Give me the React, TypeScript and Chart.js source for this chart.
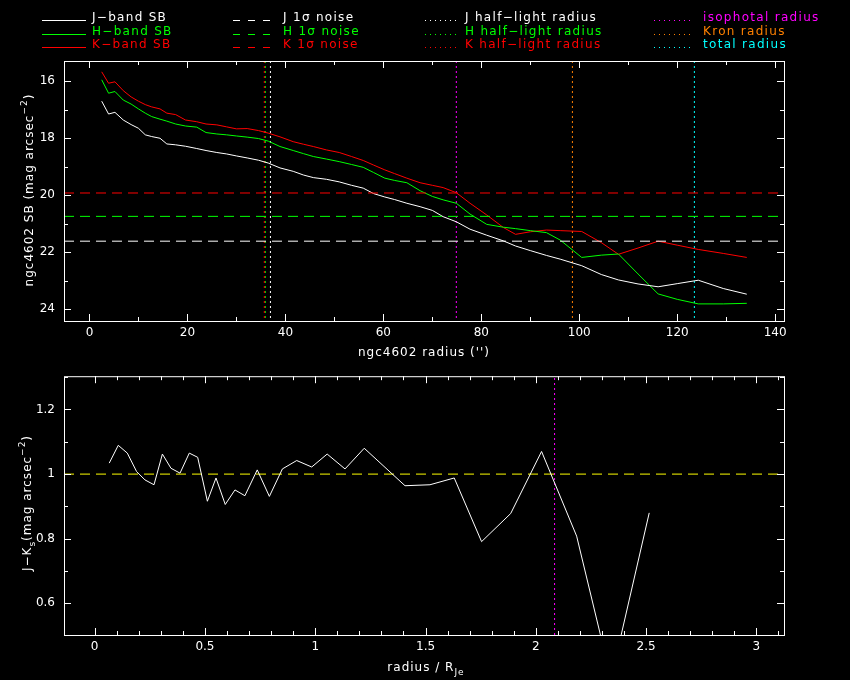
import React, { useEffect, useRef } from 'react';
import { Chart, registerables } from 'chart.js';
Chart.register(...registerables);

// surface brightness profiles (mag arcsec^-2) against radius (arcsec)
const radius = [
  2.5, 3.9, 5.2, 6.9, 8.5, 10.0, 11.4, 12.7, 14.4, 15.8, 17.6, 19.6, 21.9, 23.8, 26.0, 28.0, 30.0, 32.2,
  34.5, 36.5, 38.9, 41.6, 43.7, 45.7, 48.4, 51.0, 53.5, 55.9, 58.0, 60.3, 62.3, 64.8, 67.5, 70.0, 72.2,
  74.9, 77.7, 81.1, 84.5, 87.0, 90.0, 93.3, 96.1, 100.5, 104.5, 108.0, 112.0, 116.1, 120.0, 124.3, 129.4, 134.2,
];
const jBandSB = [
  16.7, 17.15, 17.09, 17.36, 17.52, 17.65, 17.88, 17.94, 18.0, 18.2, 18.23, 18.28, 18.36, 18.43, 18.5, 18.55,
  18.62, 18.69, 18.77, 18.87, 19.04, 19.16, 19.29, 19.38, 19.44, 19.53, 19.65, 19.75, 19.94, 20.06, 20.15,
  20.28, 20.4, 20.53, 20.75, 20.93, 21.19, 21.4, 21.6, 21.78, 21.94, 22.11, 22.24, 22.47, 22.78, 22.97, 23.11,
  23.21, 23.1, 22.98, 23.27, 23.47,
];
const hBandSB = [
  15.95, 16.42, 16.36, 16.66, 16.8, 16.97, 17.12, 17.24, 17.33, 17.4, 17.5, 17.57, 17.61, 17.8, 17.85, 17.88,
  17.92, 17.96, 18.01, 18.1, 18.29, 18.43, 18.54, 18.64, 18.73, 18.82, 18.92, 19.02, 19.2, 19.4, 19.48, 19.56,
  19.84, 20.04, 20.16, 20.28, 20.66, 21.02, 21.12, 21.17, 21.24, 21.31, 21.57, 22.18, 22.1, 22.06, 22.76, 23.46,
  23.65, 23.81, 23.81, 23.79,
];
const kBandSB = [
  15.67, 16.07, 16.02, 16.33, 16.55, 16.7, 16.82, 16.9, 16.97, 17.12, 17.17, 17.36, 17.42, 17.5, 17.53, 17.6,
  17.67, 17.66, 17.73, 17.82, 17.95, 18.12, 18.21, 18.29, 18.41, 18.5, 18.64, 18.78, 18.94, 19.11, 19.24, 19.4,
  19.56, 19.65, 19.73, 19.91, 20.28, 20.69, 21.13, 21.37, 21.28, 21.22, 21.24, 21.27, 21.66, 22.07, 21.85,
  21.61, 21.75, 21.9, 22.04, 22.18,
];

// 1 sigma noise levels
const noiseJ = 21.61;
const noiseH = 20.74;
const noiseK = 19.92;

// characteristic radii (arcsec)
const halfLightJ = 36.95;
const halfLightH = 35.9;
const halfLightK = 35.7;
const isophotalRadius = 74.9;
const kronRadius = 98.6;
const totalRadius = 123.5;

// J-Ks colour profile against radius / R_Je
const normRadius = [
  0.066, 0.107, 0.148, 0.19, 0.228, 0.269, 0.307, 0.346, 0.387, 0.429, 0.467, 0.511, 0.55, 0.592, 0.636,
  0.681, 0.737, 0.792, 0.851, 0.916, 0.984, 1.054, 1.135, 1.222, 1.407, 1.52, 1.63, 1.754, 1.886, 2.026,
  2.185, 2.341, 2.514,
];
const jMinusK = [
  1.034, 1.089, 1.065, 1.008, 0.982, 0.967, 1.062, 1.018, 1.003, 1.065, 1.052, 0.916, 0.988, 0.906, 0.951,
  0.933, 1.013, 0.931, 1.016, 1.042, 1.022, 1.062, 1.016, 1.08, 0.964, 0.967, 0.988, 0.791, 0.878, 1.07,
  0.808, 0.366, 0.88,
];
const colourRef = 1.0;
const isophotalRadiusRe = 2.085;

// axes
const radiusTicks = [0, 20, 40, 60, 80, 100, 120, 140];
const radiusMinor = [0, 10, 20, 30, 40, 50, 60, 70, 80, 90, 100, 110, 120, 130, 140];
const sbTicks = [16, 18, 20, 22, 24];
const sbMinor = [16, 17, 18, 19, 20, 21, 22, 23, 24];
const normTicks = [0, 0.5, 1, 1.5, 2, 2.5, 3];
const normMinor = [0, 0.1, 0.2, 0.3, 0.4, 0.5, 0.6, 0.7, 0.8, 0.9, 1, 1.1, 1.2, 1.3, 1.4, 1.5, 1.6, 1.7, 1.8,
  1.9, 2, 2.1, 2.2, 2.3, 2.4, 2.5, 2.6, 2.7, 2.8, 2.9, 3, 3.1];
const colourTicks = [0.6, 0.8, 1, 1.2];
const colourMinor = [0.6, 0.7, 0.8, 0.9, 1, 1.1, 1.2, 1.3];

const FONT = "'DejaVu Sans', sans-serif";
const W = 850;
const TOP_H = 360;
const BOT_H = 320;

type Piece = { t: string; shift?: number; size?: number };

// draw a run of text with super/subscripts, centred on (x, y)
function drawRich(ctx: CanvasRenderingContext2D, pieces: Piece[], x: number, y: number, rot: number, color: string) {
  ctx.save();
  ctx.translate(x, y);
  ctx.rotate(rot);
  ctx.fillStyle = color;
  ctx.textBaseline = 'alphabetic';
  ctx.textAlign = 'left';
  (ctx as any).letterSpacing = '1px';
  let total = 0;
  const widths = pieces.map((p) => {
    ctx.font = `${p.size ?? 12}px ${FONT}`;
    const w = ctx.measureText(p.t).width;
    total += w;
    return w;
  });
  let u = -total / 2;
  pieces.forEach((p, i) => {
    ctx.font = `${p.size ?? 12}px ${FONT}`;
    ctx.fillText(p.t, u, p.shift ?? 0);
    u += widths[i];
  });
  ctx.restore();
}

// box with inward ticks on all four sides
function frame(xMajor: number[], xMinor: number[], yMajor: number[], yMinor: number[]) {
  return {
    id: 'frame',
    afterDraw(chart: Chart) {
      const { ctx, chartArea: a } = chart;
      const xs = chart.scales.x;
      const ys = chart.scales.y;
      ctx.save();
      ctx.strokeStyle = '#ffffff';
      ctx.lineWidth = 1;
      ctx.setLineDash([]);
      ctx.strokeRect(a.left + 0.5, a.top + 0.5, a.right - a.left, a.bottom - a.top);
      ctx.beginPath();
      const tick = (vals: number[], len: number) => {
        vals.forEach((v) => {
          const px = Math.round(xs.getPixelForValue(v)) + 0.5;
          if (px < a.left || px > a.right) return;
          ctx.moveTo(px, a.bottom);
          ctx.lineTo(px, a.bottom - len);
          ctx.moveTo(px, a.top);
          ctx.lineTo(px, a.top + len);
        });
      };
      const tickY = (vals: number[], len: number) => {
        vals.forEach((v) => {
          const py = Math.round(ys.getPixelForValue(v)) + 0.5;
          if (py < a.top || py > a.bottom) return;
          ctx.moveTo(a.left, py);
          ctx.lineTo(a.left + len, py);
          ctx.moveTo(a.right, py);
          ctx.lineTo(a.right - len, py);
        });
      };
      tick(xMinor, 4);
      tick(xMajor, 7);
      tickY(yMinor, 4);
      tickY(yMajor, 7);
      ctx.stroke();
      ctx.restore();
    },
  };
}

const legendItems = [
  { label: 'J\u2212band SB', color: '#ffffff', kind: 'solid', col: 0, row: 0 },
  { label: 'H\u2212band SB', color: '#00ff00', kind: 'solid', col: 0, row: 1 },
  { label: 'K\u2212band SB', color: '#ff0000', kind: 'solid', col: 0, row: 2 },
  { label: 'J 1\u03c3 noise', color: '#ffffff', kind: 'dash', col: 1, row: 0 },
  { label: 'H 1\u03c3 noise', color: '#00ff00', kind: 'dash', col: 1, row: 1 },
  { label: 'K 1\u03c3 noise', color: '#ff0000', kind: 'dash', col: 1, row: 2 },
  { label: 'J half\u2212light radius', color: '#ffffff', kind: 'dot', col: 2, row: 0 },
  { label: 'H half\u2212light radius', color: '#00ff00', kind: 'dot', col: 2, row: 1 },
  { label: 'K half\u2212light radius', color: '#ff0000', kind: 'dot', col: 2, row: 2 },
  { label: 'isophotal radius', color: '#ff00ff', kind: 'dot', col: 3, row: 0 },
  { label: 'Kron radius', color: '#ff8000', kind: 'dot', col: 3, row: 1 },
  { label: 'total radius', color: '#00ffff', kind: 'dot', col: 3, row: 2 },
];
const legendCols = [
  { x0: 42, x1: 86, tx: 92 },
  { x0: 233, x1: 277, tx: 283 },
  { x0: 425, x1: 457, tx: 465 },
  { x0: 654, x1: 694, tx: 703 },
];

const topDecor = {
  id: 'topDecor',
  afterDraw(chart: Chart) {
    const ctx = chart.ctx;
    ctx.save();
    legendItems.forEach((it) => {
      const c = legendCols[it.col];
      const y = 20 + it.row * 13.5;
      ctx.strokeStyle = it.color;
      ctx.lineWidth = 1;
      ctx.setLineDash(it.kind === 'dash' ? [7, 8] : it.kind === 'dot' ? [1, 4] : []);
      ctx.beginPath();
      ctx.moveTo(c.x0, Math.round(y) + 0.5);
      ctx.lineTo(c.x1, Math.round(y) + 0.5);
      ctx.stroke();
      ctx.setLineDash([]);
      ctx.fillStyle = it.color;
      ctx.font = `12px ${FONT}`;
      (ctx as any).letterSpacing = '1.3px';
      ctx.textBaseline = 'alphabetic';
      ctx.textAlign = 'left';
      ctx.fillText(it.label, c.tx, y + 1);
    });
    ctx.restore();
    const a = chart.chartArea;
    drawRich(ctx, [{ t: "ngc4602 radius ('')" }], (a.left + a.right) / 2, 356, 0, '#ffffff');
    drawRich(
      ctx,
      [{ t: 'ngc4602 SB (mag arcsec' }, { t: '\u22122', shift: -6, size: 9 }, { t: ')' }],
      33,
      190,
      -Math.PI / 2,
      '#ffffff',
    );
  },
};

const botDecor = {
  id: 'botDecor',
  afterDraw(chart: Chart) {
    const ctx = chart.ctx;
    const a = chart.chartArea;
    drawRich(ctx, [{ t: 'radius / R' }, { t: 'Je', shift: 4, size: 9 }], (a.left + a.right) / 2 + 2, 671 - TOP_H, 0, '#ffffff');
    drawRich(
      ctx,
      [{ t: 'J\u2212K' }, { t: 's', shift: 4, size: 9 }, { t: '(mag arcsec' }, { t: '\u22122', shift: -6, size: 9 }, { t: ')' }],
      31,
      503 - TOP_H,
      -Math.PI / 2,
      '#ffffff',
    );
  },
};

const vline = (x: number, min: number, max: number, color: string) => ({
  data: [
    { x, y: min },
    { x, y: max },
  ],
  borderColor: color,
  borderWidth: 1,
  borderDash: [2, 3],
  pointRadius: 0,
});
const hline = (y: number, min: number, max: number, color: string) => ({
  data: [
    { x: min, y },
    { x: max, y },
  ],
  borderColor: color,
  borderWidth: 1,
  borderDash: [10, 6],
  pointRadius: 0,
});
const series = (xs: number[], ys: number[], color: string) => ({
  data: xs.map((x, i) => ({ x, y: ys[i] })),
  borderColor: color,
  borderWidth: 1,
  pointRadius: 0,
  tension: 0,
});

const tickFont = { family: FONT, size: 12 };
const fmt = (v: number | string) => String(Math.round(Number(v) * 10) / 10);

const App: React.FC = () => {
  const topRef = useRef<HTMLCanvasElement>(null);
  const botRef = useRef<HTMLCanvasElement>(null);
  const topChart = useRef<Chart | null>(null);
  const botChart = useRef<Chart | null>(null);

  useEffect(() => {
    const xMin = -5.2;
    const xMax = 141.8;
    const yMin = 15.29;
    const yMax = 24.41;
    if (topRef.current) {
      topChart.current?.destroy();
      topChart.current = new Chart(topRef.current, {
        type: 'line',
        data: {
          datasets: [
            hline(noiseJ, xMin, xMax, '#ffffff'),
            hline(noiseH, xMin, xMax, '#00ff00'),
            hline(noiseK, xMin, xMax, '#ff0000'),
            series(radius, jBandSB, '#ffffff'),
            series(radius, hBandSB, '#00ff00'),
            series(radius, kBandSB, '#ff0000'),
            vline(halfLightJ, yMin, yMax, '#ffffff'),
            vline(halfLightK, yMin, yMax, '#ff0000'),
            vline(halfLightH, yMin, yMax, '#00ff00'),
            vline(isophotalRadius, yMin, yMax, '#ff00ff'),
            vline(kronRadius, yMin, yMax, '#ff8000'),
            vline(totalRadius, yMin, yMax, '#00ffff'),
          ] as any,
        },
        options: {
          responsive: false,
          animation: false,
          layout: { padding: { top: 61, right: 66, left: 0, bottom: 0 } },
          plugins: { legend: { display: false }, tooltip: { enabled: false } },
          scales: {
            x: {
              type: 'linear',
              min: xMin,
              max: xMax,
              grid: { display: false, drawTicks: false },
              border: { display: false },
              afterFit: (s: any) => {
                s.height = TOP_H - 321;
              },
              afterBuildTicks: (s: any) => {
                s.ticks = radiusTicks.map((value) => ({ value }));
              },
              ticks: { color: '#ffffff', font: tickFont, padding: 5, maxRotation: 0, autoSkip: false, callback: fmt },
            },
            y: {
              type: 'linear',
              reverse: true,
              min: yMin,
              max: yMax,
              grid: { display: false, drawTicks: false },
              border: { display: false },
              afterFit: (s: any) => {
                s.width = 64;
              },
              afterBuildTicks: (s: any) => {
                s.ticks = sbTicks.map((value) => ({ value }));
              },
              ticks: { color: '#ffffff', font: tickFont, padding: 9, autoSkip: false, callback: fmt },
            },
          },
        },
        plugins: [frame(radiusTicks, radiusMinor, sbTicks, sbMinor), topDecor],
      });
    }

    const nMin = -0.139;
    const nMax = 3.125;
    const cMin = 0.502;
    const cMax = 1.303;
    if (botRef.current) {
      botChart.current?.destroy();
      botChart.current = new Chart(botRef.current, {
        type: 'line',
        data: {
          datasets: [
            series(normRadius, jMinusK, '#ffffff'),
            hline(colourRef, nMin, nMax, '#ffff00'),
            vline(isophotalRadiusRe, cMin, cMax, '#ff00ff'),
          ] as any,
        },
        options: {
          responsive: false,
          animation: false,
          layout: { padding: { top: 376 - TOP_H, right: 66, left: 0, bottom: 0 } },
          plugins: { legend: { display: false }, tooltip: { enabled: false } },
          scales: {
            x: {
              type: 'linear',
              min: nMin,
              max: nMax,
              grid: { display: false, drawTicks: false },
              border: { display: false },
              afterFit: (s: any) => {
                s.height = TOP_H + BOT_H - 635;
              },
              afterBuildTicks: (s: any) => {
                s.ticks = normTicks.map((value) => ({ value }));
              },
              ticks: { color: '#ffffff', font: tickFont, padding: 5, maxRotation: 0, autoSkip: false, callback: fmt },
            },
            y: {
              type: 'linear',
              min: cMin,
              max: cMax,
              grid: { display: false, drawTicks: false },
              border: { display: false },
              afterFit: (s: any) => {
                s.width = 64;
              },
              afterBuildTicks: (s: any) => {
                s.ticks = colourTicks.map((value) => ({ value }));
              },
              ticks: { color: '#ffffff', font: tickFont, padding: 9, autoSkip: false, callback: fmt },
            },
          },
        },
        plugins: [frame(normTicks, normMinor, colourTicks, colourMinor), botDecor],
      });
    }

    return () => {
      topChart.current?.destroy();
      botChart.current?.destroy();
      topChart.current = null;
      botChart.current = null;
    };
  }, []);

  return (
    <div style={{ position: 'absolute', left: 0, top: 0, width: W, height: TOP_H + BOT_H, background: '#000000' }}>
      <canvas ref={topRef} width={W} height={TOP_H} style={{ position: 'absolute', left: 0, top: 0, width: W, height: TOP_H }} />
      <canvas
        ref={botRef}
        width={W}
        height={BOT_H}
        style={{ position: 'absolute', left: 0, top: TOP_H, width: W, height: BOT_H }}
      />
    </div>
  );
};

export default App;
